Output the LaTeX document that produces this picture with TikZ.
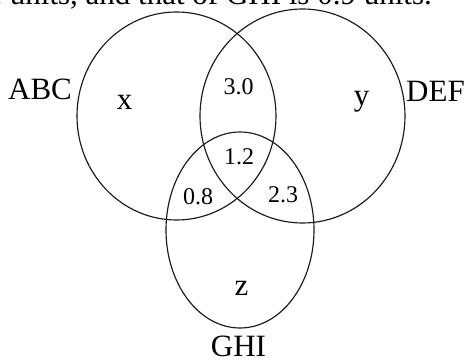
\documentclass[tikz,border=0pt]{standalone}
\usepackage{fontspec}
\setmainfont{Liberation Serif}
\begin{document}
\begin{tikzpicture}[x=1pt,y=-1pt,
  setline/.style={draw=black!90,line width=1.15pt},
  biglabel/.style={inner sep=0pt,font=\fontsize{31}{34}\selectfont},
  numlabel/.style={inner sep=0pt,font=\fontsize{24}{26}\selectfont}]
\useasboundingbox (0,0) rectangle (464,363);
\begin{scope}
\clip (0,0) rectangle (464,363);
\node[biglabel,anchor=base east] (caption) at (432,4.5) {re units, and that of GHI is 0.9 units.};
\end{scope}
\draw[setline] (176.5,116) ellipse [x radius=99.5, y radius=104];
\draw[setline] (302.5,116) ellipse [x radius=102.5, y radius=107];
\draw[setline] (240,230) ellipse [x radius=74, y radius=98];
\node[biglabel,anchor=base] (abc) at (40,100) {ABC};
\node[biglabel,anchor=base west] (def) at (406,102) {DEF};
\node[biglabel,anchor=base] (ghi) at (238.5,357) {GHI};
\node[biglabel,anchor=base] (x) at (124.5,110) {x};
\node[biglabel,anchor=base] (y) at (361.5,106) {y};
\node[biglabel,anchor=base] (z) at (241.5,296) {z};
\node[numlabel,anchor=base] (n30) at (238.5,95) {3.0};
\node[numlabel,anchor=base] (n12) at (239,165) {1.2};
\node[numlabel,anchor=base] (n08) at (198,205) {0.8};
\node[numlabel,anchor=base] (n23) at (283,203) {2.3};
\end{tikzpicture}
\end{document}
